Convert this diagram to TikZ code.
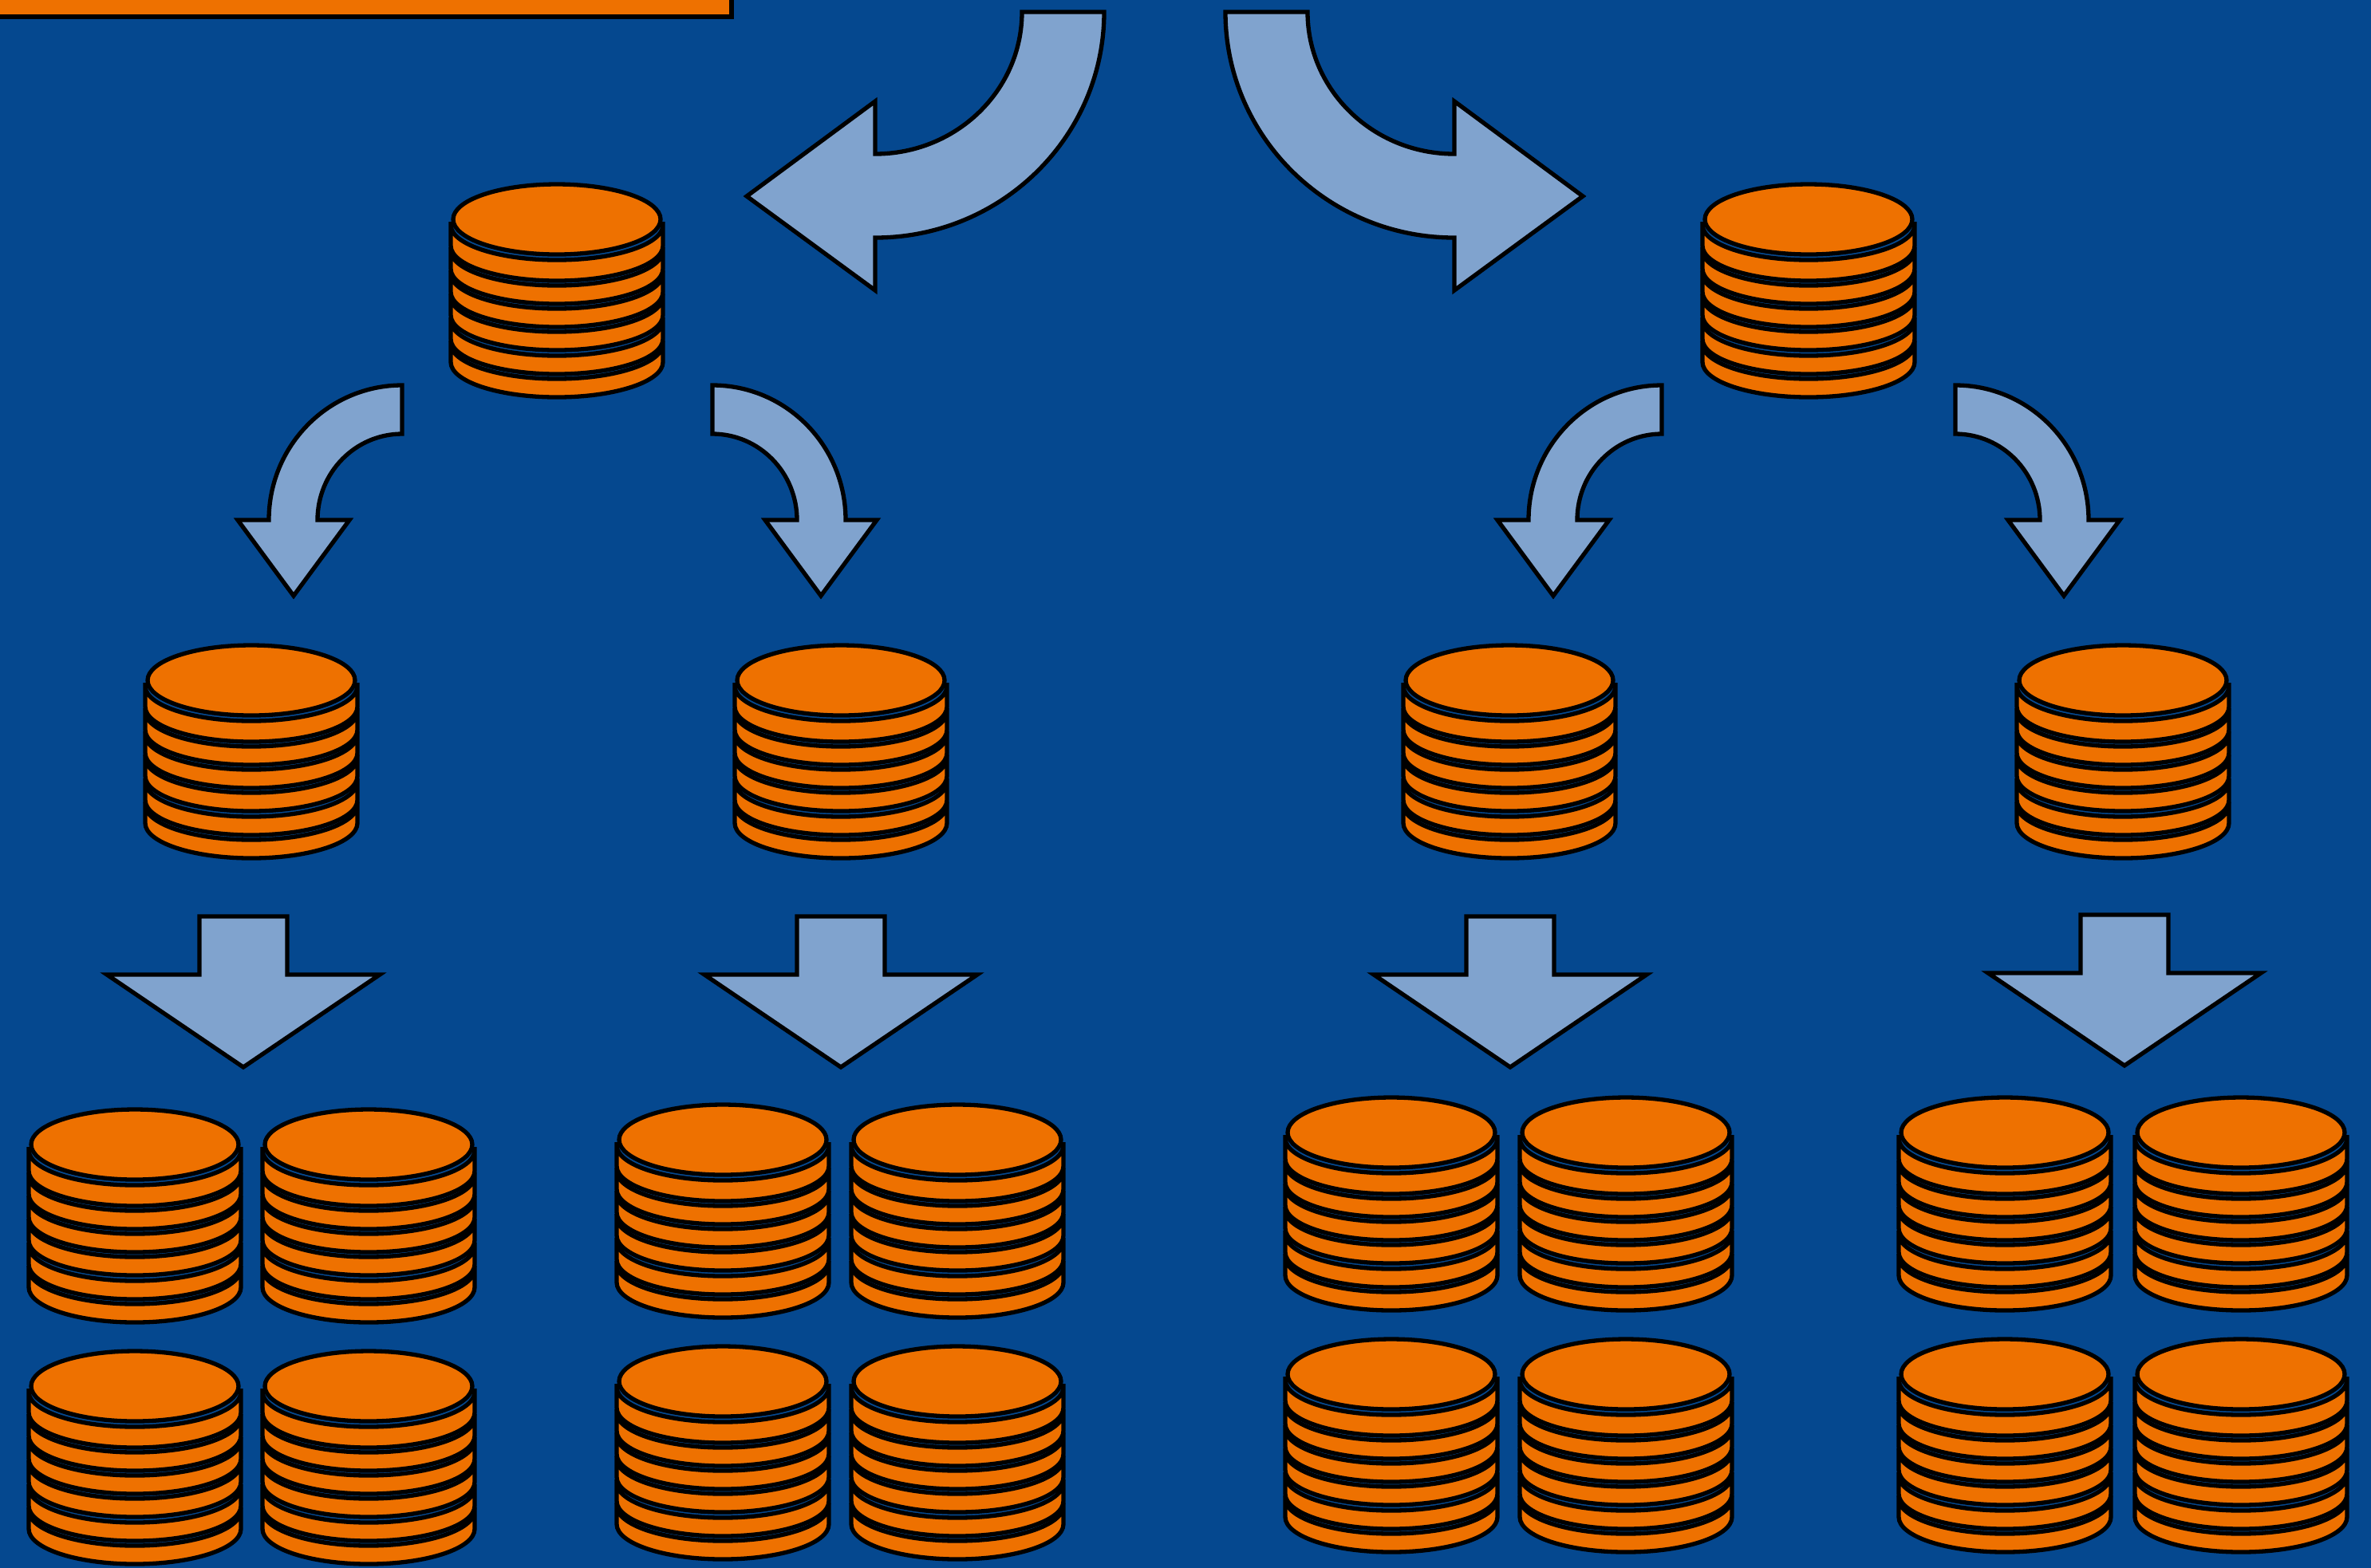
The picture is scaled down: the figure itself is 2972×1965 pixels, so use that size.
\documentclass[tikz,border=0pt]{standalone}
\usepackage{xcolor}
\usepackage{tikz}
\definecolor{deepblue}{HTML}{05488F}
\definecolor{coinorange}{HTML}{EE7100}
\definecolor{paleblue}{HTML}{80A3CE}
\tikzset{
    outline/.style={draw=black, line width=0.53mm},
    coinface/.style={outline, fill=coinorange},
    blockarrow/.style={outline, fill=paleblue},
    coin/.pic={
        \draw [coinface] (-133,-4) -- (-133,#1) arc[start angle=180, end angle=0, x radius=133, y radius=44] -- (133,-4) -- (133,0) arc[start angle=0, end angle=180, x radius=133, y radius=44] -- cycle;
    },
    coinstack/.pic={
        \pic at (0,156) {coin=23};
        \pic at (0,127) {coin=23};
        \pic at (0,97) {coin=23};
        \pic at (0,68) {coin=23};
        \pic at (0,39) {coin=23};
        \pic at (0,7) {coin=26};
        \draw [coinface] (0,0) ellipse [x radius=130, y radius=44];
    },
    bigarrow/.pic={
        \draw [blockarrow] (0,0) arc[start angle=0, end angle=90, x radius=287, y radius=283] -- (-287,349) -- (-448,231) -- (-287,112) -- (-287,178) arc[start angle=90, end angle=0, x radius=184, y radius=178] -- cycle;
    },
    bendarrow/.pic={
        \draw [blockarrow] (0,0) arc[start angle=-90, end angle=-180, x radius=167, y radius=169] -- (-206,169) -- (-136,264) -- (-66,169) -- (-106,169) arc[start angle=180, end angle=270, x radius=106, y radius=108] -- cycle;
    },
    downarrow/.pic={
        \draw [blockarrow] (-55,0) -- (55,0) -- (55,73) -- (171,73) -- (0,189) -- (-171,73) -- (-55,73) -- cycle;
    }
}

\begin{document}
\begin{tikzpicture}[x=0.01cm, y=-0.01cm]
    \useasboundingbox (0,0) rectangle (2972,1965);
    \fill [deepblue] (-10,-10) rectangle (2982,1975);
    \draw [coinface] (-10,-10) rectangle (917,21);

    \pic at (1384,15) {bigarrow};
    \pic [xscale=-1] at (1536,15) {bigarrow};

    \pic at (698,275) {coinstack};
    \pic at (2267,275) {coinstack};

    \pic at (504,483) {bendarrow};
    \pic [xscale=-1] at (893,483) {bendarrow};
    \pic at (2083,483) {bendarrow};
    \pic [xscale=-1] at (2451,483) {bendarrow};

    \pic at (315,853) {coinstack};
    \pic at (1054,853) {coinstack};
    \pic at (1892,853) {coinstack};
    \pic at (2661,853) {coinstack};

    \pic at (305,1149) {downarrow};
    \pic at (1054,1149) {downarrow};
    \pic at (1893,1149) {downarrow};
    \pic at (2663,1147) {downarrow};

    \pic at (169,1435) {coinstack};
    \pic at (462,1435) {coinstack};
    \pic at (169,1738) {coinstack};
    \pic at (462,1738) {coinstack};

    \pic at (906,1429) {coinstack};
    \pic at (1200,1429) {coinstack};
    \pic at (906,1732) {coinstack};
    \pic at (1200,1732) {coinstack};

    \pic at (1744,1420) {coinstack};
    \pic at (2038,1420) {coinstack};
    \pic at (1744,1723) {coinstack};
    \pic at (2038,1723) {coinstack};

    \pic at (2513,1420) {coinstack};
    \pic at (2809,1420) {coinstack};
    \pic at (2513,1723) {coinstack};
    \pic at (2809,1723) {coinstack};
\end{tikzpicture}
\end{document}
